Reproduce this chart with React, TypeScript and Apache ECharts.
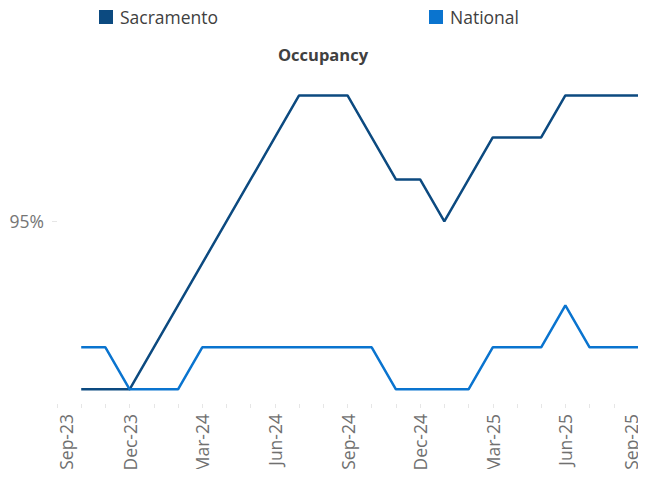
import React, { useEffect, useRef } from "react";
import * as echarts from "echarts";

const months = [
  "Sep-23", "Oct-23", "Nov-23", "Dec-23", "Jan-24", "Feb-24", "Mar-24", "Apr-24", "May-24",
  "Jun-24", "Jul-24", "Aug-24", "Sep-24", "Oct-24", "Nov-24", "Dec-24", "Jan-25", "Feb-25",
  "Mar-25", "Apr-25", "May-25", "Jun-25", "Jul-25", "Aug-25", "Sep-25",
];

const sacramento = [
  null, 91, 91, 91, 92, 93, 94, 95, 96, 97, 98, 98, 98, 97, 96, 96, 95, 96, 97, 97, 97, 98, 98, 98, 98,
];

const national = [
  null, 92, 92, 91, 91, 91, 92, 92, 92, 92, 92, 92, 92, 92, 91, 91, 91, 91, 92, 92, 92, 93, 92, 92, 92,
];

const yTickValues = [95];

const FONT = "'Open Sans', 'Noto Sans', sans-serif";
const SAC_COLOR = "#0c4a80";
const NAT_COLOR = "#0a74cf";
const LABEL_COLOR = "#707070";
const LABEL_SIZE = 17.5;

export default function App() {
  const ref = useRef<HTMLDivElement>(null);
  useEffect(() => {
    if (!ref.current) return;
    const chart = echarts.init(ref.current, undefined, { renderer: "svg" });
    const labelStyle = { fontFamily: FONT, fontSize: LABEL_SIZE, color: LABEL_COLOR };
    chart.setOption({
      animation: false,
      backgroundColor: "#ffffff",
      textStyle: { fontFamily: FONT },
      title: {
        text: "Occupancy",
        left: "center",
        top: 46,
        padding: 0,
        textStyle: { fontFamily: FONT, fontSize: 16.5, fontWeight: "bold", color: "#404040" },
      },
      legend: [
        {
          data: ["Sacramento"],
          left: 99,
          top: 8,
          padding: 0,
          icon: "rect",
          itemWidth: 14,
          itemHeight: 14,
          textStyle: { fontFamily: FONT, fontSize: 17.5, color: "#404040", padding: [0, 0, 0, 2] },
        },
        {
          data: ["National"],
          left: 429,
          top: 8,
          padding: 0,
          icon: "rect",
          itemWidth: 14,
          itemHeight: 14,
          textStyle: { fontFamily: FONT, fontSize: 17.5, color: "#404040", padding: [0, 0, 0, 2] },
        },
      ],
      grid: { left: 57, right: 8, top: 85, bottom: 73, containLabel: false },
      xAxis: {
        type: "category",
        data: months,
        boundaryGap: false,
        axisLine: { show: false },
        axisTick: {
          show: true,
          interval: 0,
          length: 4,
          lineStyle: { color: "#e6e6e6", width: 1 },
        },
        axisLabel: {
          interval: 2,
          rotate: 90,
          margin: 10,
          fontSize: LABEL_SIZE,
          color: LABEL_COLOR,
          fontFamily: FONT,
          formatter: (v: string, i: number) => {
            if (i === 0) return "{first|" + v + "}";
            if (i === months.length - 1) return "{last|" + v + "}";
            return v;
          },
          rich: {
            first: { ...labelStyle, padding: [18, 0, 0, 0] },
            last: { ...labelStyle, padding: [0, 0, 14, 0] },
          },
        },
        splitLine: { show: false },
      },
      yAxis: {
        type: "value",
        min: 90.65,
        max: 98.25,
        axisLine: { show: false },
        splitLine: { show: false },
        axisTick: {
          show: true,
          customValues: yTickValues,
          length: 5,
          lineStyle: { color: "#e6e6e6" },
        },
        axisLabel: {
          customValues: yTickValues,
          formatter: (v: number) => v + "%",
          fontSize: 17.5,
          color: "#757575",
          margin: 13,
          fontFamily: FONT,
        },
      },
      series: [
        {
          name: "Sacramento",
          type: "line",
          data: sacramento,
          symbol: "none",
          color: SAC_COLOR,
          lineStyle: { width: 2.5, color: SAC_COLOR },
        },
        {
          name: "National",
          type: "line",
          data: national,
          symbol: "none",
          color: NAT_COLOR,
          lineStyle: { width: 2.5, color: NAT_COLOR },
        },
      ],
    });
    return () => chart.dispose();
  }, []);
  return <div ref={ref} style={{ width: 646, height: 477, margin: -8 }} />;
}
